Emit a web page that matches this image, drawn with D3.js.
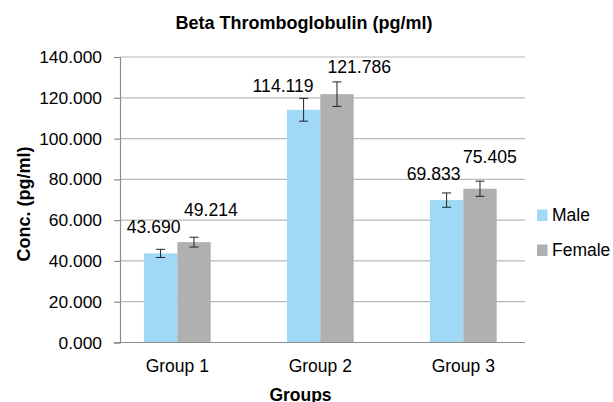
<!DOCTYPE html>
<html>
<head>
<meta charset="utf-8">
<script src="https://cdn.jsdelivr.net/npm/d3@7"></script>
<style>
  html, body { margin: 0; padding: 0; background: #ffffff; }
  svg { display: block; font-family: "Liberation Sans", Arial, sans-serif; }
</style>
</head>
<body>
<div id="chart"></div>
<script>
const groups = ["Group 1", "Group 2", "Group 3"];
const seriesNames = ["Male", "Female"];
const maleValues = [43.690, 114.119, 69.833];
const femaleValues = [49.214, 121.786, 75.405];
const maleErrors = [2.0, 5.6, 3.5];
const femaleErrors = [2.4, 6.0, 3.7];
const yTicks = [0, 20, 40, 60, 80, 100, 120, 140];

// hand placed value labels (dx from bar centre, dy from bar top)
const maleLabelShift = [[20, -20], [10, -18], [14, -20.5]];
const femaleLabelShift = [[-10, -26.5], [-9.5, -21], [-17, -25.5]];

const width = 613;
const height = 402;
const plotLeft = 120;
const plotRight = 525;
const colors = { Male: "#9fd9f6", Female: "#b0b0b0" };

const svg = d3.select("#chart")
  .append("svg")
  .attr("width", width)
  .attr("height", height);

const y = d3.scaleLinear()
  .domain([0, 140])
  .range([342.5, 57]);

const x0 = d3.scaleBand()
  .domain(groups)
  .range([105.8, 534.8])
  .paddingInner(0.533)
  .paddingOuter(0.2665);

const x1 = d3.scaleBand()
  .domain(seriesNames)
  .range([0, x0.bandwidth()]);

// gridlines
svg.append("g")
  .selectAll("line")
  .data(yTicks.slice(1))
  .enter()
  .append("line")
  .attr("x1", plotLeft)
  .attr("x2", plotRight)
  .attr("y1", (d) => y(d))
  .attr("y2", (d) => y(d))
  .attr("stroke", "#b8b8b8")
  .attr("stroke-width", 1.2);

// y axis
const yAxis = svg.append("g")
  .attr("transform", `translate(${plotLeft},0)`)
  .call(d3.axisLeft(y).tickValues(yTicks).tickFormat(d3.format(".3f")).tickSize(6).tickPadding(12));

yAxis.select(".domain").attr("stroke", "#8c8c8c").attr("stroke-width", 1.2);
yAxis.selectAll(".tick line").attr("stroke", "#8c8c8c").attr("stroke-width", 1.2);
yAxis.selectAll(".tick text")
  .attr("fill", "#000")
  .style("font-size", "17.4px")
  .style("font-family", "'Liberation Sans', Arial, sans-serif");

// bars
const rows = groups.map((g, i) => ([
  { group: g, series: "Male", value: maleValues[i], err: maleErrors[i], shift: maleLabelShift[i] },
  { group: g, series: "Female", value: femaleValues[i], err: femaleErrors[i], shift: femaleLabelShift[i] }
]));

const groupSel = svg.append("g")
  .selectAll("g.group")
  .data(rows)
  .enter()
  .append("g")
  .attr("class", "group")
  .attr("transform", (d) => `translate(${x0(d[0].group)},0)`);

groupSel.selectAll("rect")
  .data((d) => d)
  .enter()
  .append("rect")
  .attr("x", (d) => x1(d.series))
  .attr("y", (d) => y(d.value))
  .attr("width", x1.bandwidth())
  .attr("height", (d) => y(0) - y(d.value))
  .attr("fill", (d) => colors[d.series]);

// x axis line
svg.append("line")
  .attr("x1", plotLeft - 6)
  .attr("x2", plotRight)
  .attr("y1", y(0))
  .attr("y2", y(0))
  .attr("stroke", "#8c8c8c")
  .attr("stroke-width", 1.2);

// error bars
const errSel = groupSel.selectAll("g.err")
  .data((d) => d)
  .enter()
  .append("g")
  .attr("class", "err")
  .attr("stroke", "#222")
  .attr("stroke-width", 1);

errSel.append("line")
  .attr("x1", (d) => x1(d.series) + x1.bandwidth() / 2)
  .attr("x2", (d) => x1(d.series) + x1.bandwidth() / 2)
  .attr("y1", (d) => y(d.value + d.err))
  .attr("y2", (d) => y(d.value - d.err));

[1, -1].forEach((sign) => {
  errSel.append("line")
    .attr("x1", (d) => x1(d.series) + x1.bandwidth() / 2 - 4.5)
    .attr("x2", (d) => x1(d.series) + x1.bandwidth() / 2 + 4.5)
    .attr("y1", (d) => y(d.value + sign * d.err))
    .attr("y2", (d) => y(d.value + sign * d.err));
});

// value labels
groupSel.selectAll("text.value")
  .data((d) => d)
  .enter()
  .append("text")
  .attr("class", "value")
  .attr("x", (d) => x1(d.series) + x1.bandwidth() / 2 + d.shift[0])
  .attr("y", (d) => y(d.value) + d.shift[1])
  .attr("text-anchor", (d) => d.series === "Male" ? "end" : "start")
  .attr("font-size", 17.6)
  .attr("fill", "#000")
  .text((d) => d3.format(".3f")(d.value));

// category labels
svg.append("g")
  .selectAll("text")
  .data(groups)
  .enter()
  .append("text")
  .attr("x", (d) => x0(d) + x0.bandwidth() / 2)
  .attr("y", 371.5)
  .attr("text-anchor", "middle")
  .attr("font-size", 17.5)
  .attr("fill", "#000")
  .text((d) => d);

// title
svg.append("text")
  .attr("x", 304)
  .attr("y", 28.5)
  .attr("text-anchor", "middle")
  .attr("font-size", 18)
  .attr("font-weight", "bold")
  .text("Beta Thromboglobulin (pg/ml)");

// axis titles
svg.append("text")
  .attr("transform", "translate(29.5,204) rotate(-90)")
  .attr("text-anchor", "middle")
  .attr("font-size", 18)
  .attr("font-weight", "bold")
  .text("Conc. (pg/ml)");

svg.append("text")
  .attr("x", 300.5)
  .attr("y", 401)
  .attr("text-anchor", "middle")
  .attr("font-size", 17.5)
  .attr("font-weight", "bold")
  .text("Groups");

// legend
const legend = svg.append("g")
  .selectAll("g")
  .data(seriesNames)
  .enter()
  .append("g")
  .attr("transform", (d, i) => `translate(537,${209.5 + i * 35})`);

legend.append("rect")
  .attr("width", 10.5)
  .attr("height", 11.5)
  .attr("fill", (d) => colors[d]);

legend.append("text")
  .attr("x", 15)
  .attr("y", 11.5)
  .attr("font-size", 17.5)
  .attr("fill", "#000")
  .text((d) => d);
</script>
</body>
</html>
